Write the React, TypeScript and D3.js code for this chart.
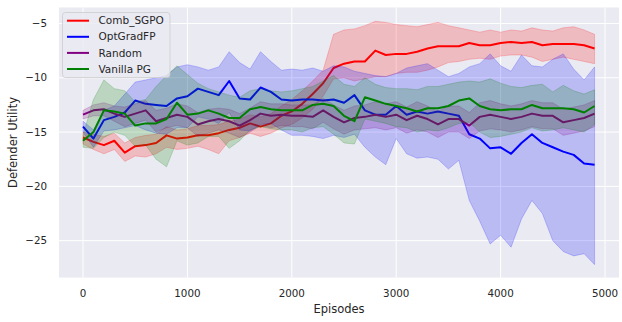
import React from "react";
import * as d3 from "d3";

const episodes = [
  0, 100, 200, 300, 400, 500, 600, 700, 800, 900,
  1000, 1100, 1200, 1300, 1400, 1500, 1600, 1700, 1800, 1900,
  2000, 2100, 2200, 2300, 2400, 2500, 2600, 2700, 2800, 2900,
  3000, 3100, 3200, 3300, 3400, 3500, 3600, 3700, 3800, 3900,
  4000, 4100, 4200, 4300, 4400, 4500, 4600, 4700, 4800, 4900,
];

const combMean = [
  -15.5, -15.9, -16.2, -15.8, -16.9, -16.3, -16.2, -16.0, -15.3, -15.6,
  -15.5, -15.3, -15.3, -15.1, -14.8, -14.6, -14.2, -14.5, -14.2, -13.5,
  -13.1, -12.4, -11.5, -10.5, -9.1, -8.7, -8.5, -8.5, -7.5, -7.9,
  -7.8, -7.8, -7.6, -7.3, -7.1, -7.1, -7.1, -6.8, -7.0, -7.0,
  -6.8, -6.7, -6.8, -6.7, -7.0, -6.9, -6.9, -6.9, -7.0, -7.3,
];
const combUpper = [
  -15.0, -15.2, -15.4, -15.1, -16.0, -15.5, -15.3, -15.2, -14.5, -14.8,
  -14.7, -14.4, -14.4, -14.3, -14.0, -13.8, -13.4, -13.6, -13.3, -12.6,
  -12.0, -11.2, -10.3, -9.3, -6.0, -5.6, -5.5, -5.2, -4.8, -4.9,
  -5.1, -5.2, -5.3, -5.1, -4.9, -5.2, -5.4, -5.6, -5.8, -5.6,
  -5.8, -5.6, -5.7, -5.4, -5.6, -5.7, -5.4, -5.3, -5.6, -6.0,
];
const combLower = [
  -16.1, -16.6, -17.0, -16.6, -17.7, -17.2, -17.3, -17.0, -16.4, -16.6,
  -16.5, -16.3, -16.6, -17.0, -15.8, -15.5, -15.1, -15.4, -15.1, -14.6,
  -14.3, -13.7, -12.9, -11.7, -10.1, -10.0, -10.3, -10.1, -9.9, -9.9,
  -9.6, -9.5, -9.5, -9.3, -9.0, -8.6, -8.5, -8.3, -8.2, -8.3,
  -8.0, -7.9, -7.9, -8.1, -8.5, -8.3, -8.1, -8.3, -8.5, -8.7,
];

const optMean = [
  -14.5, -15.6, -13.9, -13.6, -13.2, -12.1, -12.4, -12.5, -12.6, -11.9,
  -11.7, -11.0, -11.3, -11.6, -10.3, -11.9, -12.0, -10.9, -11.3, -12.0,
  -12.1, -12.0, -12.0, -12.1, -12.0, -12.3, -11.6, -13.0, -13.4, -13.4,
  -12.6, -13.4, -13.1, -13.3, -13.1, -13.3, -13.5, -15.2, -15.6, -16.5,
  -16.4, -17.0, -16.0, -15.2, -16.0, -16.4, -16.8, -17.1, -17.9, -18.0,
];
const optUpper = [
  -14.0, -14.8, -13.0, -12.6, -11.5, -10.4, -10.2, -10.0, -9.8, -9.0,
  -8.8, -9.0, -9.3, -9.0, -7.6, -8.6, -9.2, -7.6, -8.5, -9.3,
  -9.2, -9.3, -9.1, -9.4, -8.9, -9.0, -9.4, -9.6, -9.8, -9.9,
  -9.6, -9.1, -8.9, -8.7, -9.3, -9.9, -9.6, -9.0, -8.7, -7.8,
  -8.9, -9.4, -7.9, -8.9, -9.0, -8.3, -7.8, -9.2, -10.2, -9.0,
];
const optLower = [
  -15.0, -16.4, -14.9, -14.8, -14.6, -14.4, -14.8, -15.1, -15.2, -14.6,
  -14.6, -13.6, -13.8, -14.2, -13.2, -14.8, -14.9, -14.3, -14.2, -14.8,
  -15.3, -15.3, -15.4, -15.6, -15.3, -15.5, -15.2, -16.4, -17.3, -18.0,
  -15.6, -17.0, -17.4, -17.3, -17.5, -18.4, -17.6, -21.3, -23.2, -25.3,
  -24.5, -25.6, -23.0, -21.3, -22.5, -25.0, -26.0, -26.4, -26.2, -27.2,
];

const randMean = [
  -13.4, -13.0, -12.9, -13.3, -13.6, -13.3, -13.0, -14.0, -13.7, -13.4,
  -13.6, -14.3, -14.0, -13.8, -14.0, -14.4, -13.9, -13.3, -13.5, -13.4,
  -13.5, -13.5, -13.6, -13.0, -13.6, -14.1, -13.7, -13.6, -13.4, -13.6,
  -13.4, -13.9, -13.5, -13.8, -14.3, -13.8, -13.8, -14.4, -13.6, -13.4,
  -13.6, -13.8, -13.6, -13.3, -13.5, -13.5, -14.1, -13.9, -13.7, -13.3,
];
const randUpper = [
  -13.0, -12.5, -12.3, -12.6, -12.7, -12.4, -12.1, -13.0, -12.8, -12.4,
  -12.6, -13.2, -12.9, -12.8, -12.9, -13.3, -12.8, -12.2, -12.4, -12.4,
  -12.5, -12.5, -12.5, -11.9, -12.5, -13.0, -12.6, -12.5, -12.2, -12.4,
  -12.2, -12.7, -12.2, -12.6, -13.1, -12.6, -12.6, -13.2, -12.3, -12.1,
  -12.4, -12.6, -12.4, -12.1, -12.3, -12.3, -12.9, -12.7, -12.5, -12.1,
];
const randLower = [
  -13.8, -13.5, -13.5, -14.0, -14.5, -14.2, -13.9, -15.0, -14.6, -14.4,
  -14.6, -15.4, -15.1, -14.8, -15.1, -15.5, -15.0, -14.4, -14.6, -14.4,
  -14.5, -14.5, -14.7, -14.1, -14.7, -15.2, -14.8, -14.7, -14.6, -14.8,
  -14.6, -15.1, -14.8, -15.0, -15.5, -15.0, -15.0, -15.6, -14.9, -14.7,
  -14.8, -15.0, -14.8, -14.5, -14.7, -14.7, -15.3, -15.1, -14.9, -14.5,
];

const vanMean = [
  -15.8, -15.0, -13.0, -13.1, -13.3, -14.4, -14.2, -14.2, -13.8, -12.3,
  -13.4, -13.3, -13.0, -13.3, -13.7, -13.7, -12.9, -12.7, -12.9, -13.0,
  -13.0, -13.0, -12.5, -12.4, -12.6, -13.5, -14.0, -11.8, -12.1, -12.4,
  -12.6, -12.8, -13.1, -12.8, -12.8, -12.6, -12.1, -11.9, -12.6, -12.9,
  -13.0, -12.9, -12.9, -12.5, -12.8, -12.8, -12.8, -12.9, -13.2, -12.6,
];
const vanUpper = [
  -15.3, -12.0, -10.2, -11.0, -11.2, -12.2, -12.0, -10.8, -9.8, -8.9,
  -9.7, -10.5, -11.0, -11.3, -11.6, -11.8, -11.2, -11.0, -11.2, -11.3,
  -11.2, -11.0, -10.8, -10.3, -9.8, -10.6, -10.8, -10.0, -10.6, -10.9,
  -11.0, -11.0, -11.1, -10.8, -10.8, -10.6, -10.4, -10.3, -10.4, -10.1,
  -10.5, -10.8, -10.9, -10.7, -10.6, -11.3, -10.7, -11.2, -11.5, -11.1,
];
const vanLower = [
  -16.4, -16.5, -15.5, -15.0, -15.3, -16.3, -16.2, -17.5, -18.2, -15.8,
  -16.2, -16.0, -15.4, -15.4, -16.5, -15.8, -14.8, -14.5, -14.7, -14.8,
  -14.8, -15.0, -14.6, -14.5, -15.2, -16.0, -16.1, -13.8, -14.0, -14.2,
  -14.5, -14.6, -15.0, -14.8, -14.9, -14.6, -14.2, -14.1, -15.0, -15.5,
  -15.4, -15.2, -15.0, -14.6, -14.9, -14.8, -14.6, -14.8, -15.0, -14.3,
];

const seriesNames = ["Comb_SGPO", "OptGradFP", "Random", "Vanilla PG"];
const seriesColors = ["#ff0000", "#0000ff", "#800080", "#008000"];
const means = [combMean, optMean, randMean, vanMean];
const uppers = [combUpper, optUpper, randUpper, vanUpper];
const lowers = [combLower, optLower, randLower, vanLower];

const xTicks = [0, 1000, 2000, 3000, 4000, 5000];
const yTicks = [-5, -10, -15, -20, -25];

const W = 622;
const H = 322;
const L = 59, R = 619, T = 7.5, B = 277.5;
const FONT = "'DejaVu Sans', sans-serif";
const TXT = "#262626";

export default function App() {
  const x = d3.scaleLinear().domain([-230, 5134]).range([L, R]);
  const y = d3.scaleLinear().domain([-28.39, -3.53]).range([B, T]);

  const line = d3
    .line<number>()
    .x((_, i) => x(episodes[i]))
    .y((d) => y(d));

  const area = (up: number[], lo: number[]) =>
    d3
      .area<number>()
      .x((_, i) => x(episodes[i]))
      .y0((_, i) => y(lo[i]))
      .y1((_, i) => y(up[i]))(up) || "";

  return (
    <svg
      width={W}
      height={H}
      style={{ position: "absolute", left: 0, top: 0 }}
      fontFamily={FONT}
    >
      <rect x={0} y={0} width={W} height={H} fill="#ffffff" />
      <rect x={L} y={T} width={R - L} height={B - T} fill="#EAEAF2" />
      <defs>
        <clipPath id="plot">
          <rect x={L} y={T} width={R - L} height={B - T} />
        </clipPath>
      </defs>
      {xTicks.map((t) => (
        <line key={"gx" + t} x1={x(t)} x2={x(t)} y1={T} y2={B} stroke="#fff" strokeWidth={1} />
      ))}
      {yTicks.map((t) => (
        <line key={"gy" + t} x1={L} x2={R} y1={y(t)} y2={y(t)} stroke="#fff" strokeWidth={1} />
      ))}
      <g clipPath="url(#plot)">
        {seriesNames.map((name, s) => (
          <g key={name}>
            <path d={line(means[s]) || ""} fill="none" stroke={seriesColors[s]} strokeWidth={2} strokeLinejoin="round" />
            <path
              d={area(uppers[s], lowers[s])}
              fill={seriesColors[s]}
              fillOpacity={0.2}
              stroke={seriesColors[s]}
              strokeOpacity={0.2}
              strokeWidth={1}
            />
          </g>
        ))}
      </g>
      {xTicks.map((t) => (
        <text key={"tx" + t} x={x(t)} y={297} textAnchor="middle" fontSize={10.3} fill={TXT}>
          {t}
        </text>
      ))}
      {yTicks.map((t) => (
        <text key={"ty" + t} x={47} y={y(t)} dy="0.35em" textAnchor="end" fontSize={10.3} fill={TXT}>
          {"\u2212" + Math.abs(t)}
        </text>
      ))}
      <text x={(L + R) / 2} y={313} textAnchor="middle" fontSize={11.5} fill={TXT}>
        Episodes
      </text>
      <text
        transform={`translate(17, ${(T + B) / 2}) rotate(-90)`}
        textAnchor="middle"
        fontSize={11.5}
        fill={TXT}
      >
        Defender Utility
      </text>
      <g>
        <rect
          x={62.5}
          y={12.5}
          width={107.5}
          height={65}
          rx={3}
          fill="#EAEAF2"
          fillOpacity={0.8}
          stroke="#cccccc"
          strokeOpacity={0.8}
        />
        {seriesNames.map((name, s) => {
          const ly = 20.7 + s * 16.1;
          return (
            <g key={"lg" + name}>
              <line x1={67} x2={89} y1={ly} y2={ly} stroke={seriesColors[s]} strokeWidth={2} />
              <text x={98.5} y={ly} dy="0.35em" fontSize={10.5} fill={TXT}>
                {name}
              </text>
            </g>
          );
        })}
      </g>
    </svg>
  );
}
